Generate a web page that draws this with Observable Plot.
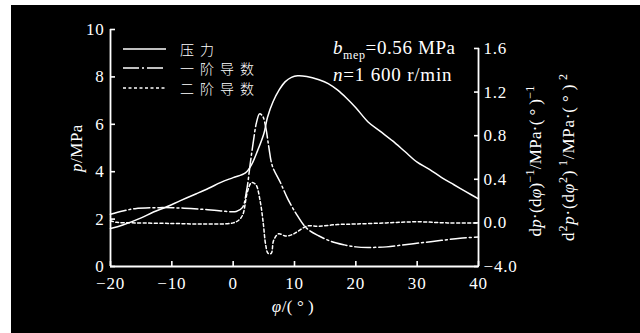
<!DOCTYPE html>
<html><head><meta charset="utf-8">
<script src="https://cdn.jsdelivr.net/npm/d3@7"></script>
<script src="https://cdn.jsdelivr.net/npm/@observablehq/plot@0.6"></script>
<style>
html,body{margin:0;padding:0;background:#fff;width:640px;height:333px;overflow:hidden}
#frame{position:absolute;left:11px;top:5px;width:629px;height:328px;background:#000}
#overlay{position:absolute;left:0;top:0;pointer-events:none}
</style></head><body>
<div id="frame"></div>
<svg id="overlay" width="640" height="333"></svg>
<script>
// ---- data ----
const pressurePhi = [-20,-18,-15,-13,-11,-8.6,-6,-4,-2,0,2,3,4,5,5.6,6.5,7.5,8.5,9.5,10.5,12,14,15.5,17,18.5,20,22,24,26,28,30,32,34,36,38,40];
const pressureP   = [1.6,1.75,2.05,2.3,2.5,2.78,3.07,3.3,3.55,3.75,3.95,4.3,4.9,5.6,6.3,6.95,7.45,7.8,7.98,8.05,8.02,7.88,7.72,7.45,7.1,6.7,6.1,5.7,5.3,4.85,4.4,4.1,3.75,3.45,3.15,2.85];

const d1Phi = [-20,-18,-16,-12,-8,-5,-2,0.5,1.5,2.2,2.8,3.3,3.8,4.3,4.8,5.3,5.8,6.4,7.7,8.9,10.5,12,14,16,18,20,22,25,28,31,34,37,40];
const d1Val = [0.08,0.11,0.13,0.14,0.135,0.125,0.11,0.105,0.14,0.3,0.55,0.75,0.92,1.0,0.98,0.88,0.7,0.52,0.37,0.22,0.064,-0.05,-0.12,-0.17,-0.2,-0.22,-0.225,-0.22,-0.2,-0.18,-0.16,-0.14,-0.13];

const d2Phi = [-20,-19,-16,-10,-5,0,1,1.6,2.3,3.0,3.7,4.4,4.9,5.3,5.7,6.2,6.6,7.4,8.5,9.5,10.5,12,14,17,20,25,30,35,40];
const d2Val = [0.02,0.005,0.0,-0.005,-0.01,0.0,0.03,0.08,0.28,0.37,0.35,0.2,0.0,-0.2,-0.28,-0.28,-0.16,-0.1,-0.12,-0.11,-0.08,-0.03,-0.03,-0.015,-0.01,0.0,0.01,0.0,0.0];

const xTicks = [-20,-10,0,10,20,30,40];
const leftTicks = [0,2,4,6,8,10];
const rightTicks = [-0.4,0,0.4,0.8,1.2,1.6];
const rightTickLabels = ["\u22124.0","0.0","0.4","0.8","1.2","1.6"];
const legendLabels = ["压力","一阶导数","二阶导数"];

// right axis value -> left-axis units
const toP = v => (v + 0.4) * 4.6;

const pressure = pressurePhi.map((x,i)=>({x, y: pressureP[i]}));
const d1 = d1Phi.map((x,i)=>({x, y: toP(d1Val[i])}));
const d2 = d2Phi.map((x,i)=>({x, y: toP(d2Val[i])}));
const rightLabelMap = new Map(rightTicks.map((v,i)=>[toP(v), rightTickLabels[i]]));

const serif = "'Liberation Serif', 'Times New Roman', serif";
const tickFont = {fontFamily: serif, fontSize: 17};
const chart = Plot.plot({
  width: 629, height: 328,
  marginLeft: 99, marginRight: 162, marginTop: 24, marginBottom: 67,
  x: {domain: [-20, 40]},
  y: {domain: [0, 10]},
  style: {background: "black", color: "white", fontFamily: serif, fontSize: "17px", letterSpacing: "0.8px"},
  marks: [
    Plot.axisX({ticks: xTicks, tickSize: -5, tickPadding: 15, strokeWidth: 1.6, label: null, ...tickFont}),
    Plot.axisY({ticks: leftTicks, tickSize: -5, tickPadding: 11, strokeWidth: 1.6, label: null, ...tickFont}),
    Plot.axisY({anchor: "right", ticks: rightTicks.map(toP), tickSize: -5, tickPadding: 10, strokeWidth: 1.6,
      tickFormat: d => rightLabelMap.get(d), label: null, ...tickFont}),
    Plot.ruleY([0], {x1: -20, x2: 40, stroke: "white", strokeWidth: 1.8}),
    Plot.ruleX([-20], {y1: 0, y2: 10, stroke: "white", strokeWidth: 1.8}),
    Plot.ruleX([40], {y1: 0, y2: toP(1.6), stroke: "white", strokeWidth: 1.8}),
    Plot.line(d2, {x: "x", y: "y", stroke: "white", strokeWidth: 1.5, strokeDasharray: "3,2.5", curve: "catmull-rom"}),
    Plot.line(d1, {x: "x", y: "y", stroke: "white", strokeWidth: 1.5, strokeDasharray: "16,3,2,3", curve: "catmull-rom"}),
    Plot.line(pressure, {x: "x", y: "y", stroke: "white", strokeWidth: 1.5, curve: "catmull-rom"})
  ]
});
document.getElementById("frame").appendChild(chart);

// ---- overlay: legend, annotation and axis titles ----
const ov = d3.select("#overlay");
const dashes = [null, "16,3,2,3", "3,2.5"];
const ly = [49, 68, 88];
legendLabels.forEach((t,i)=>{
  ov.append("line").attr("x1",123).attr("x2",166).attr("y1",ly[i]).attr("y2",ly[i])
    .attr("stroke","white").attr("stroke-width",1.6).attr("stroke-dasharray",dashes[i]);
  ov.append("text").attr("x",180).attr("y",ly[i]).attr("dominant-baseline","central")
    .attr("fill","white").style("font-family","'Noto Sans CJK SC', sans-serif").style("font-weight",300)
    .style("font-size","14px").style("letter-spacing","6px").text(t);
});

function rich(g, parts){
  parts.forEach(p=>{
    const ts = g.append("tspan").text(p.t);
    if (p.i) ts.style("font-style","italic");
    if (p.s) ts.style("font-size", p.s+"px");
    if (p.dy) ts.attr("dy", p.dy);
  });
}
const txt = (x,y,rot,anchor,size,ls)=> ov.append("text")
  .attr("transform",`translate(${x},${y})${rot?` rotate(${rot})`:""}`)
  .attr("text-anchor",anchor).attr("fill","white")
  .style("font-family",serif).style("font-size",size+"px").style("letter-spacing",(ls||0)+"px");

rich(txt(333,54,0,"start",19,0.6), [{t:"b",i:1},{t:"mep",s:12,dy:5},{t:"=0.56 MPa",dy:-5}]);
rich(txt(333,81,0,"start",19,0.8), [{t:"n",i:1},{t:"=1 600 r/min"}]);

rich(txt(82,148,-90,"middle",17,0.5), [{t:"p",i:1},{t:"/MPa"}]);
rich(txt(293,312,0,"middle",17,0.5), [{t:"φ",i:1},{t:"/(\u2009°\u2009)"}]);

rich(txt(541,161,-90,"middle",17,0.3), [{t:"d"},{t:"p",i:1},{t:"·(d"},{t:"φ",i:1},{t:")"},
  {t:"\u22121",s:12,dy:-7},{t:"/MPa·(\u2009°\u2009)",dy:7},{t:"\u22121",s:12,dy:-7}]);
rich(txt(574,157,-90,"middle",17,0.8), [{t:"d"},{t:"2",s:12,dy:-7},{t:"p",i:1,dy:7},{t:"·(d"},{t:"φ",i:1},
  {t:"2",s:12,dy:-7},{t:")",dy:7},{t:" 1",s:12,dy:-7},{t:"/MPa·(\u2009°\u2009)",dy:7},{t:" 2",s:12,dy:-7}]);
</script>
</body></html>
